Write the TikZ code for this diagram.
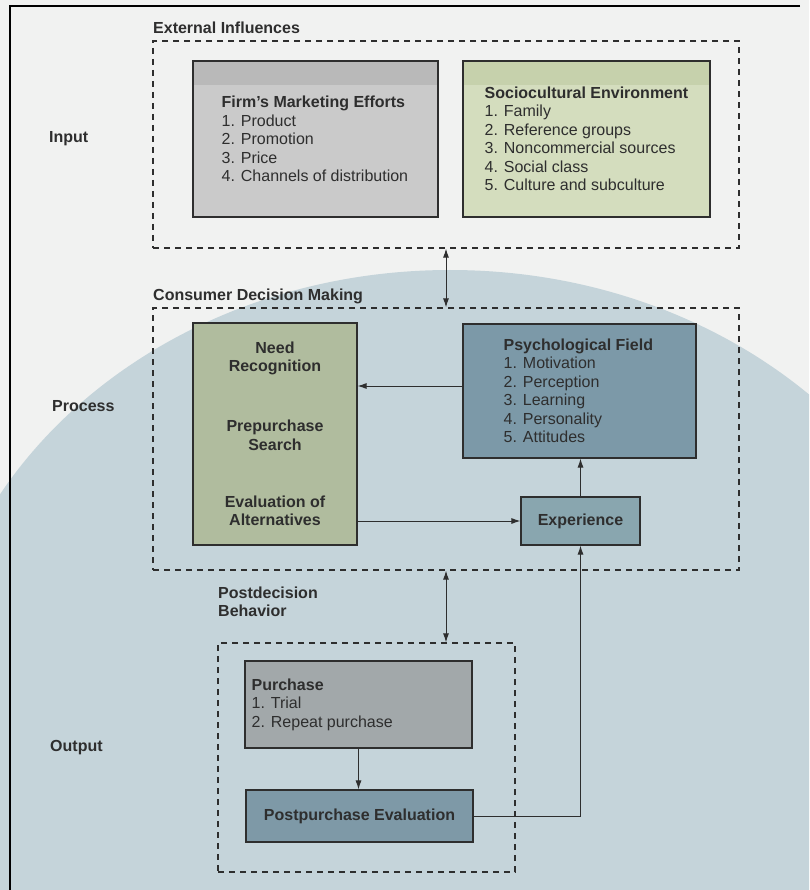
\documentclass[tikz,border=0pt]{standalone}
\usepackage{fontspec}
\setmainfont{Liberation Sans}
\usetikzlibrary{arrows.meta, positioning}

\definecolor{ink}{HTML}{2E2E2E}
\definecolor{paper}{HTML}{F1F2F1}
\definecolor{wash}{HTML}{C5D4DA}
\definecolor{firmcol}{HTML}{CACACA}
\definecolor{firmband}{HTML}{B9B9B9}
\definecolor{sociocol}{HTML}{D4DDBE}
\definecolor{socioband}{HTML}{C6D1AC}
\definecolor{needcol}{HTML}{B0BC9E}
\definecolor{psychcol}{HTML}{7C99A8}
\definecolor{expcol}{HTML}{89A6AF}
\definecolor{purchcol}{HTML}{A2A8AA}
\definecolor{postcol}{HTML}{7E99A7}

\begin{document}
\begin{tikzpicture}[x=1pt, y=-1pt,
    every node/.style={font=\fontsize{16}{18.5}\selectfont, text=ink},
    box/.style={draw=ink, line width=1.1pt, inner sep=0pt},
    zone/.style={draw=ink, line width=1.2pt, dash pattern=on 6pt off 5pt, inner sep=0pt},
    lbl/.style={font=\fontsize{16}{18.5}\selectfont\bfseries, inner sep=0pt, anchor=base west},
    txt/.style={align=left, inner sep=0pt},
    mid/.style={align=center, inner sep=0pt, font=\fontsize{16}{18.5}\selectfont\bfseries},
    band/.style={path picture={\fill[#1] (path picture bounding box.north west) rectangle ([yshift=-24pt]path picture bounding box.north east);}},
    arr/.style={-{Latex[length=9pt,width=6pt]}, line width=1pt, draw=ink},
    darr/.style={{Latex[length=9pt,width=6pt]}-{Latex[length=9pt,width=6pt]}, line width=1pt, draw=ink}]
    \useasboundingbox (0,0) rectangle (809,890);
    %background of the page
    \begin{scope}
        \clip (0,0) rectangle (809,890);
        \fill[paper] (0,0) rectangle (809,890);
        \fill[wash] (450,720) ellipse (520 and 450);
    \end{scope}
    \draw[black, line width=2pt] (800,6) -- (10,6) -- (10,890);

    %dashed zones
    \node[zone, minimum width=586pt, minimum height=207pt] (ext) at (446,144.5) {};
    \node[zone, minimum width=586pt, minimum height=262pt] (cdm) at (446,439) {};
    \node[zone, minimum width=297pt, minimum height=229pt] (pdb) at (366.5,757.5) {};

    %side and zone labels
    \node[lbl] (extlbl) at (153,33.7) {External Influences};
    \node[lbl] (cdmlbl) at (153,300.7) {Consumer Decision Making};
    \node[lbl, align=left] (pdblbl) at (218,616.7) {Postdecision\\Behavior};
    \node[lbl] (input) at (49,142.7) {Input};
    \node[lbl] (process) at (52,411.7) {Process};
    \node[lbl] (output) at (50,751.7) {Output};

    %input boxes
    \node[box, fill=firmcol, band=firmband, minimum width=245pt, minimum height=156pt] (firm) at (315.5,139) {};
    \node[txt, right=29pt of firm.west] (firmtxt) {\textbf{Firm's Marketing Efforts}\\1. Product\\2. Promotion\\3. Price\\4. Channels of distribution};
    \node[box, fill=sociocol, band=socioband, minimum width=247pt, minimum height=156pt] (socio) at (586.5,139) {};
    \node[txt, right=22pt of socio.west] (sociotxt) {\textbf{Sociocultural Environment}\\1. Family\\2. Reference groups\\3. Noncommercial sources\\4. Social class\\5. Culture and subculture};

    %process boxes
    \node[box, fill=needcol, minimum width=164pt, minimum height=222pt] (need) at (275,434) {};
    \node[mid] (needtxt) at ([yshift=75.5pt]need.center) {Need\\Recognition};
    \node[mid] (searchtxt) at ([yshift=-1.5pt]need.center) {Prepurchase\\Search};
    \node[mid] (evaltxt) at ([yshift=-77pt]need.center) {Evaluation of\\Alternatives};
    \node[box, fill=psychcol, minimum width=233pt, minimum height=134pt] (psych) at (579.5,391) {};
    \node[txt, right=41pt of psych.west] (psychtxt) {\textbf{Psychological Field}\\1. Motivation\\2. Perception\\3. Learning\\4. Personality\\5. Attitudes};
    \node[box, fill=expcol, minimum width=119pt, minimum height=48pt, font=\fontsize{16}{18.5}\selectfont\bfseries] (exper) at (580.5,521) {Experience};

    %output boxes
    \node[box, fill=purchcol, minimum width=227pt, minimum height=87pt] (purch) at (358.5,704.5) {};
    \node[txt, right=7pt of purch.west] (purchtxt) {\textbf{Purchase}\\1. Trial\\2. Repeat purchase};
    \node[box, fill=postcol, minimum width=227pt, minimum height=52pt, font=\fontsize{16}{18.5}\selectfont\bfseries] (post) at (359.5,816) {Postpurchase Evaluation};

    %connectors
    \coordinate (pin) at ([yshift=5pt]psych.west);
    \draw[darr] (ext.south) -- (cdm.north);
    \draw[darr] (cdm.south) -- (cdm.south |- pdb.north);
    \draw[arr] (pin) -- (pin -| need.east);
    \draw[arr] (exper.west -| need.east) -- (exper.west);
    \draw[arr] (exper.north) -- (exper.north |- psych.south);
    \draw[arr] (purch.south) -- (purch.south |- post.north);
    \draw[arr] (post.east) -| (exper.south);
\end{tikzpicture}
\end{document}
